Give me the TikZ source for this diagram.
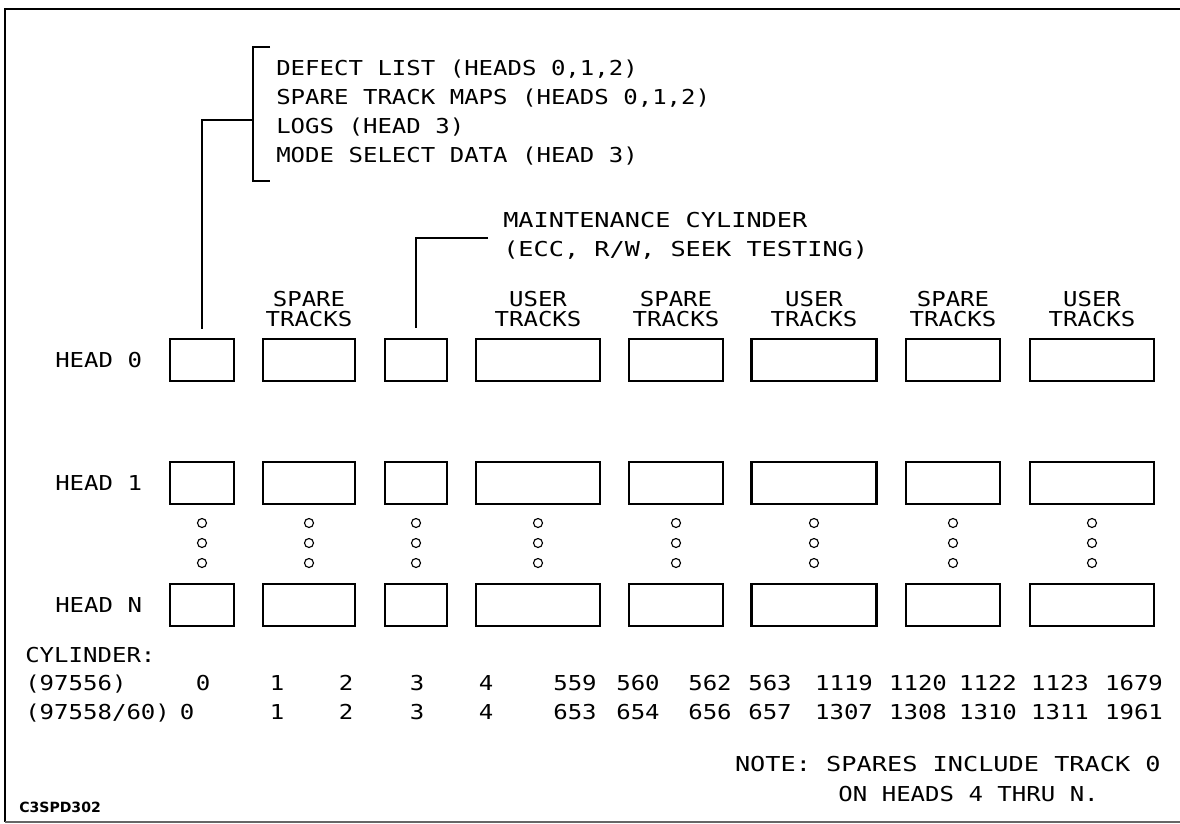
\documentclass[tikz,border=0pt]{standalone}
\usepackage{fontspec}
\usetikzlibrary{calc}
\newfontfamily\plotfont[FakeStretch=1.17]{DejaVu Sans Mono}
\newfontfamily\wideplotfont[FakeStretch=1.23]{DejaVu Sans Mono}
\newfontfamily\tagfont{DejaVu Sans}
\newcommand{\pxu}{0.025cm}

\begin{document}
\begin{tikzpicture}[
    x=\pxu, y=-\pxu,
    box/.style={
        draw,
        line width=1.5pt,
        inner sep=0pt,
        minimum width=#1*\pxu,
        minimum height=42*\pxu
    },
    txt/.style={
        inner sep=0pt,
        anchor=base west,
        font=\plotfont\fontsize{14.6}{20}\selectfont
    },
    widetxt/.style={txt, font=\wideplotfont\fontsize{14.6}{20}\selectfont},
    num/.style={txt, anchor=base},
    colhead/.style={
        inner sep=0pt,
        anchor=south,
        align=center,
        font=\plotfont\fontsize{14.6}{14.2}\selectfont
    },
    leader/.style={line width=0.9pt}
]
\useasboundingbox (0,0) rectangle (1180,824);

% Frame
\draw[line width=2pt] (1180,9) -- (5,9) -- (5,822);
\draw[line width=1.5pt, black!60] (5,822) -- (1180,822);

% Track boxes, one column per cylinder group
\foreach \cx/\w [count=\i] in {202/64, 309/92, 416/62, 538/124, 676/94, 814/125, 953/94, 1092/124} {
    \node[box=\w] (b0-\i) at (\cx,360) {};
    \node[box=\w] (b1-\i) at (\cx,483) {};
    \node[box=\w] (bN-\i) at (\cx,605) {};
    \foreach \dy in {523,543,563}
        \draw[line width=0.8pt] (\cx,\dy) circle[radius=4.5];
}

% Head labels
\node[txt] (h0) at (55,367.5) {HEAD 0};
\node[txt] (h1) at (55,490.5) {HEAD 1};
\node[txt] (hN) at (55,612.5) {HEAD N};

% Column labels
\node[colhead] (l2) at (b0-2.center |- 0,327) {SPARE\\TRACKS};
\node[colhead] (l4) at (b0-4.center |- 0,327) {USER\\TRACKS};
\node[colhead] (l5) at (b0-5.center |- 0,327) {SPARE\\TRACKS};
\node[colhead] (l6) at (b0-6.center |- 0,327) {USER\\TRACKS};
\node[colhead] (l7) at (b0-7.center |- 0,327) {SPARE\\TRACKS};
\node[colhead] (l8) at (b0-8.center |- 0,327) {USER\\TRACKS};

% Reserved cylinder contents
\node[txt] (defects) at (276,75.5) {DEFECT LIST (HEADS 0,1,2)};
\node[txt] (maps) at (276,104.5) {SPARE TRACK MAPS (HEADS 0,1,2)};
\node[txt] (logs) at (276,133.5) {LOGS (HEAD 3)};
\node[txt] (modesel) at (276,162.5) {MODE SELECT DATA (HEAD 3)};
\coordinate (brkT) at (253,47);
\coordinate (brkB) at (253,181);
\coordinate (brkM) at (253,120);
\draw[leader] ($(brkT)+(17,0)$) -- (brkT) -- (brkB) -- ++(17,0);
\draw[leader, shorten >=9*\pxu] (brkM) -| (b0-1.north);

% Maintenance cylinder
\node[widetxt] (maint) at (503,227.5) {MAINTENANCE CYLINDER};
\node[widetxt] (tests) at (503,256.5) {(ECC, R/W, SEEK TESTING)};
\coordinate (mcl) at (488,238);
\draw[leader, shorten >=10*\pxu] (mcl) -| (b0-3.north);

% Cylinder numbers
\node[txt] (cyl) at (25,662.5) {CYLINDER:};
\node[txt] (m556) at (25,690.5) {(97556)};
\node[txt] (m558) at (25,719.5) {(97558/60)};
\foreach \v/\xx in {0/203, 1/277, 2/346, 3/417, 4/486, 559/575, 560/638, 562/710,
    563/770, 1119/844, 1120/918, 1122/988, 1123/1060, 1679/1134}
    \node[num] (ra-\v) at (\xx,690.5) {\v};
\foreach \v/\xx in {0/187, 1/277, 2/346, 3/417, 4/486, 653/575, 654/638, 656/710,
    657/770, 1307/844, 1308/918, 1310/988, 1311/1060, 1961/1134}
    \node[num] (rb-\v) at (\xx,719.5) {\v};

% Note
\node[widetxt, anchor=base east] (note1) at (1161,771.5) {NOTE: SPARES INCLUDE TRACK 0};
\node[txt, anchor=base east] (note2) at (1099,801.5) {ON HEADS 4 THRU N.};

% Drawing tag
\node[inner sep=0pt, anchor=base west, font=\tagfont\bfseries\fontsize{10}{12}\selectfont] (tag) at (19,812) {C3SPD302};

\end{tikzpicture}
\end{document}
